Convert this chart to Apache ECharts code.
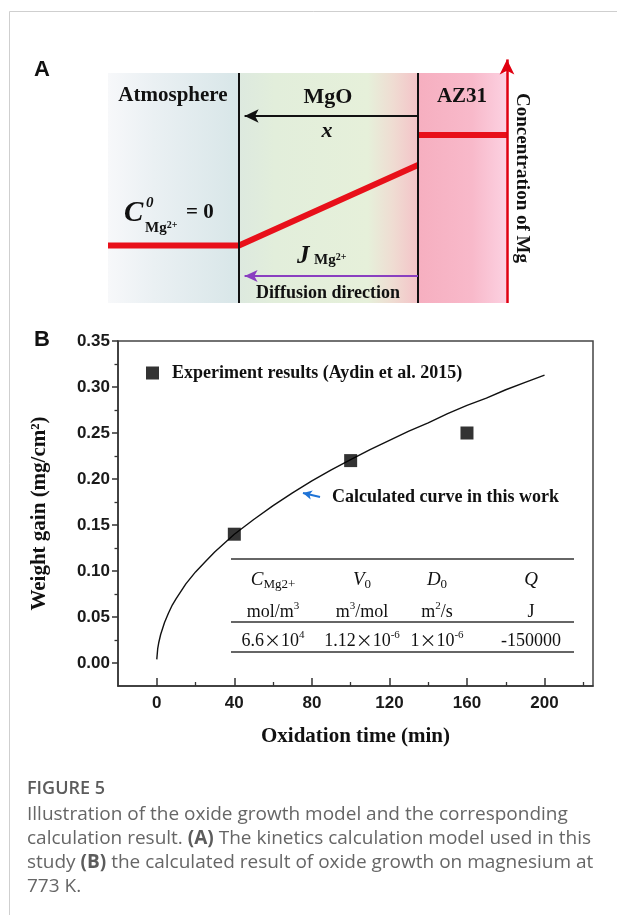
<!DOCTYPE html>
<html>
<head>
<meta charset="utf-8">
<script src="https://cdn.jsdelivr.net/npm/echarts@6/dist/echarts.min.js"></script>
<style>
  html, body { margin: 0; padding: 0; background: #fff; }
  #chart { width: 617px; height: 915px; }
</style>
</head>
<body>
<div id="chart"></div>
<script>
// ---------- Panel A: schematic of Mg concentration across the oxide ----------
// position axis 0..100 (atmosphere -> MgO -> AZ31), concentration axis 0..110
const layerNames = ['Atmosphere', 'MgO', 'AZ31'];
const layerBounds = [0, 32.75, 77.5, 100];          // layer edges along the position axis
const layerTop = 100;                                // top of the layer boxes
const profileOxide = [[0, 25], [32.75, 25], [77.5, 60]];   // atmosphere + through MgO
const profileAlloy = [[77.5, 73], [99.75, 73]];            // inside AZ31
const concAxisPos = 99.75;
const concAxisTip = 108.7;
const thicknessArrowLevel = 81.3;   // "x" arrow
const fluxArrowLevel = 11.7;        // diffusion direction arrow

// ---------- Panel B: weight gain vs oxidation time ----------
const expTime = [40, 100, 160];
const expGain = [0.14, 0.22, 0.25];
const calcTime = [0, 0.5, 1, 2, 4, 6, 8, 10, 15, 20, 25, 30, 40, 50, 60, 70, 80, 90, 100, 110, 120, 130, 140, 150, 160, 170, 180, 190, 200];
const calcGain = [0.004, 0.016, 0.022, 0.031, 0.044, 0.054, 0.063, 0.070, 0.086, 0.099, 0.110, 0.121, 0.140, 0.156, 0.171, 0.185, 0.198, 0.210, 0.221, 0.232, 0.242, 0.252, 0.261, 0.271, 0.280, 0.288, 0.297, 0.305, 0.313];
const xTickValues = [0, 40, 80, 120, 160, 200];
const xMinorValues = [20, 60, 100, 140, 180, 220];
const yTickValues = [0, 0.05, 0.10, 0.15, 0.20, 0.25, 0.30, 0.35];
const yMinorValues = [0.025, 0.075, 0.125, 0.175, 0.225, 0.275, 0.325];
const expName = 'Experiment results (Aydin et al. 2015)';
const calcNote = 'Calculated curve in this work';
const noteArrow = [[84.2, 0.1804], [75.4, 0.1848]];

// parameter table inside panel B
const tableHeads = ['{i|C}{sub|Mg2+}', '{i|V}{sub|0}', '{i|D}{sub|0}', '{i|Q}'];
const tableUnits = ['mol/m{sup|3}', 'm{sup|3}/mol', 'm{sup|2}/s', 'J'];
const tableValues = ['6.6{x|×}10{sup|4}', '1.12{x|×}10{sup|-6}', '1{x|×}10{sup|-6}', '-150000'];

const captionTitle = 'FIGURE 5';
const captionLines = [
  'Illustration of the oxide growth model and the corresponding',
  'calculation result. {b|(A)} The kinetics calculation model used in this',
  'study {b|(B)} the calculated result of oxide growth on magnesium at',
  '773 K.'
];

const SERIF = "'Liberation Serif','Times New Roman',serif";
const SANS = "'Liberation Sans',Arial,sans-serif";
const CAP = "'Open Sans','Noto Sans',sans-serif";

const lin = (stops) => ({ type: 'linear', x: 0, y: 0, x2: 1, y2: 0,
  colorStops: stops.map(s => ({ offset: s[0], color: s[1] })) });

const layerFills = [
  lin([[0, '#f7f8fa'], [0.35, '#eaf0f3'], [1, '#d8e6e8']]),
  lin([[0, '#dde9df'], [0.2, '#e2eedb'], [0.72, '#e6f0da'], [0.86, '#efdcd2'], [1, '#f4c3c8']]),
  lin([[0, '#f6afc0'], [0.6, '#f8b9ca'], [1, '#fcd2e2']])
];

// ---------- graphic: frame, panel letters, schematic labels, table, caption ----------
const graphics = [];
graphics.push({ type: 'line', shape: { x1: 9.5, y1: 11.5, x2: 617, y2: 11.5 }, style: { stroke: '#cfcfcf', lineWidth: 1 } });
graphics.push({ type: 'line', shape: { x1: 9.5, y1: 11.5, x2: 9.5, y2: 915 }, style: { stroke: '#cfcfcf', lineWidth: 1 } });
graphics.push({ type: 'text', x: 34, y: 70, z: 100, style: { text: 'A', font: 'bold 22px ' + SANS, fill: '#111', verticalAlign: 'middle' } });
graphics.push({ type: 'text', x: 34, y: 340, z: 100, style: { text: 'B', font: 'bold 22px ' + SANS, fill: '#111', verticalAlign: 'middle' } });

const serifBold = (size, italic) => (italic ? 'italic ' : '') + 'bold ' + size + 'px ' + SERIF;
function label(text, x, y, size, opts) {
  opts = opts || {};
  graphics.push({
    type: 'text', x: x, y: y, z: 100, rotation: opts.rotation || 0,
    style: { text: text, font: serifBold(size, opts.italic), fill: '#111',
      align: opts.align || 'center', verticalAlign: 'middle', rich: opts.rich }
  });
}
label(layerNames[0], 173, 96, 21);
label(layerNames[1], 328, 97, 22);
label(layerNames[2], 462, 97, 21);
label('x', 327, 131, 22, { italic: true });
label('C', 124, 214, 29, { italic: true, align: 'left' });
label('0', 146, 203, 15, { italic: true, align: 'left' });
label('Mg{s|2+}', 145, 228, 15, { align: 'left',
  rich: { s: { font: serifBold(10), verticalAlign: 'top', lineHeight: 10 } } });
label('= 0', 186, 213, 21, { align: 'left' });
label('J', 297, 257, 25, { italic: true, align: 'left' });
label('Mg{s|2+}', 314, 260, 15, { align: 'left',
  rich: { s: { font: serifBold(10), verticalAlign: 'top', lineHeight: 10 } } });
label('Diffusion direction', 328, 293, 18);
label('Concentration of Mg', 522, 178, 19, { rotation: -Math.PI / 2 });

// parameter table
const colX = [273, 362, 437, 531];
const rowY = [580, 612, 641];
const ruleY = [559, 622, 652];
ruleY.forEach(y => graphics.push({ type: 'line', z: 100, shape: { x1: 231, y1: y, x2: 574, y2: y },
  style: { stroke: '#333', lineWidth: 1.4 } }));
const tableRich = {
  i: { font: 'italic 19px ' + SERIF, lineHeight: 22 },
  sub: { font: '13px ' + SERIF, verticalAlign: 'bottom', lineHeight: 13 },
  sup: { font: '11px ' + SERIF, verticalAlign: 'top', lineHeight: 11 },
  x: { font: "17px 'Noto Sans CJK SC',sans-serif", lineHeight: 22 }
};
[tableHeads, tableUnits, tableValues].forEach((row, r) => {
  row.forEach((txt, c) => {
    graphics.push({ type: 'text', x: colX[c], y: rowY[r], z: 100,
      style: { text: txt, font: '18px ' + SERIF, fill: '#111', align: 'center',
        verticalAlign: 'middle', lineHeight: 22, rich: tableRich } });
  });
});

// note next to the calculated curve
graphics.push({ type: 'text', x: 332, y: 497, z: 100,
  style: { text: calcNote, font: serifBold(18), fill: '#111', verticalAlign: 'middle' } });

// caption
graphics.push({ type: 'text', x: 27, y: 789, z: 100,
  style: { text: captionTitle, font: '600 18px ' + CAP, fill: '#5c5c5c', verticalAlign: 'middle' } });
graphics.push({ type: 'text', x: 27, y: 803, z: 100,
  style: { text: captionLines.join('\n'), font: '19px ' + CAP, fill: '#666', lineHeight: 24,
    verticalAlign: 'top', rich: { b: { font: 'bold 19px ' + CAP, fill: '#5c5c5c', lineHeight: 24 } } } });

// ---------- chart option ----------
const arrowLine = (from, to, color, width, size) => [
  { coord: from, symbol: 'none', lineStyle: { color: color, width: width, type: 'solid' } },
  { coord: to, symbol: 'arrow', symbolSize: size }
];

const option = {
  animation: false,
  backgroundColor: '#fff',
  graphic: graphics,
  legend: {
    data: [{ name: expName, icon: 'path://M0,0H10V10H0Z' }],
    left: 146, top: 364, padding: 0,
    itemWidth: 29, itemHeight: 13, symbolKeepAspect: true,
    textStyle: { fontFamily: SERIF, fontWeight: 'bold', fontSize: 18, color: '#111' },
    selectedMode: false
  },
  grid: [
    { left: 108, top: 50, width: 400, height: 253 },
    { left: 118, top: 341, width: 475, height: 345, show: true, borderColor: '#444', borderWidth: 1.5 }
  ],
  xAxis: [
    { gridIndex: 0, type: 'value', min: 0, max: 100, show: false },
    {
      gridIndex: 1, type: 'value', min: -20, max: 225, position: 'bottom',
      axisLine: { show: true, onZero: false, lineStyle: { color: '#333', width: 1.5 } },
      axisTick: { show: true, inside: true, length: 8, customValues: xTickValues, lineStyle: { color: '#333', width: 1.5 } },
      axisLabel: { customValues: xTickValues, margin: 9, fontFamily: SANS, fontWeight: 'bold', fontSize: 17, color: '#1a1a1a' },
      splitLine: { show: false },
      name: 'Oxidation time (min)', nameLocation: 'middle', nameGap: 40,
      nameTextStyle: { fontFamily: SERIF, fontWeight: 'bold', fontSize: 21, color: '#111' }
    },
    {
      gridIndex: 1, type: 'value', min: -20, max: 225, position: 'bottom',
      axisLine: { show: false, onZero: false },
      axisTick: { show: true, inside: true, length: 4, customValues: xMinorValues, lineStyle: { color: '#333', width: 1.3 } },
      axisLabel: { show: false }, splitLine: { show: false }
    }
  ],
  yAxis: [
    { gridIndex: 0, type: 'value', min: 0, max: 110, show: false },
    {
      gridIndex: 1, type: 'value', min: -0.025, max: 0.35, position: 'left',
      axisLine: { show: true, onZero: false, lineStyle: { color: '#333', width: 1.5 } },
      axisTick: { show: true, inside: false, length: 6, customValues: yTickValues, lineStyle: { color: '#333', width: 1.5 } },
      axisLabel: { customValues: yTickValues, margin: 8, formatter: v => v.toFixed(2),
        fontFamily: SANS, fontWeight: 'bold', fontSize: 17, color: '#1a1a1a' },
      splitLine: { show: false },
      name: 'Weight gain (mg/cm²)', nameLocation: 'middle', nameRotate: 90, nameGap: 68,
      nameTextStyle: { fontFamily: SERIF, fontWeight: 'bold', fontSize: 21, color: '#111' }
    },
    {
      gridIndex: 1, type: 'value', min: -0.025, max: 0.35, position: 'left',
      axisLine: { show: false, onZero: false },
      axisTick: { show: true, inside: false, length: 3.5, customValues: yMinorValues, lineStyle: { color: '#333', width: 1.3 } },
      axisLabel: { show: false }, splitLine: { show: false }
    }
  ],
  series: [
    {
      name: 'profile-oxide', type: 'line', xAxisIndex: 0, yAxisIndex: 0,
      data: profileOxide, symbol: 'none', silent: true, z: 3,
      lineStyle: { color: '#e8101a', width: 6, cap: 'butt', join: 'round' },
      markArea: {
        silent: true,
        data: layerNames.map((n, i) => [
          { xAxis: layerBounds[i], yAxis: 0, itemStyle: { color: layerFills[i] } },
          { xAxis: layerBounds[i + 1], yAxis: layerTop }
        ])
      },
      markLine: {
        silent: true, symbol: 'none', label: { show: false },
        data: [
          [{ coord: [layerBounds[1], 0], lineStyle: { color: '#111', width: 2, type: 'solid' } }, { coord: [layerBounds[1], layerTop] }],
          [{ coord: [layerBounds[2], 0], lineStyle: { color: '#111', width: 2, type: 'solid' } }, { coord: [layerBounds[2], layerTop] }],
          arrowLine([layerBounds[2], thicknessArrowLevel], [layerBounds[1] + 1.4, thicknessArrowLevel], '#111', 2, [10, 14]),
          arrowLine([layerBounds[2], fluxArrowLevel], [layerBounds[1] + 1.4, fluxArrowLevel], '#8a3fc0', 1.8, [9, 13]),
          arrowLine([concAxisPos, 0], [concAxisPos, concAxisTip - 2.8], '#e00010', 2.5, [11, 15])
        ]
      }
    },
    {
      name: 'profile-alloy', type: 'line', xAxisIndex: 0, yAxisIndex: 0,
      data: profileAlloy, symbol: 'none', silent: true, z: 3,
      lineStyle: { color: '#e8101a', width: 6, cap: 'butt' }
    },
    {
      name: 'Calculated', type: 'line', xAxisIndex: 1, yAxisIndex: 1,
      data: calcTime.map((t, i) => [t, calcGain[i]]),
      symbol: 'none', smooth: false, silent: true,
      lineStyle: { color: '#111', width: 1.4 },
      markLine: {
        silent: true, label: { show: false },
        data: [arrowLine(noteArrow[0], noteArrow[1], '#1f73d6', 2, [7, 9])]
      }
    },
    {
      name: expName, type: 'scatter', xAxisIndex: 1, yAxisIndex: 1,
      data: expTime.map((t, i) => [t, expGain[i]]),
      symbol: 'rect', symbolSize: 13, itemStyle: { color: '#000' }, z: 4
    }
  ]
};

const chart = echarts.init(document.getElementById('chart'), null, { renderer: 'canvas' });
chart.setOption(option);
</script>
</body>
</html>
